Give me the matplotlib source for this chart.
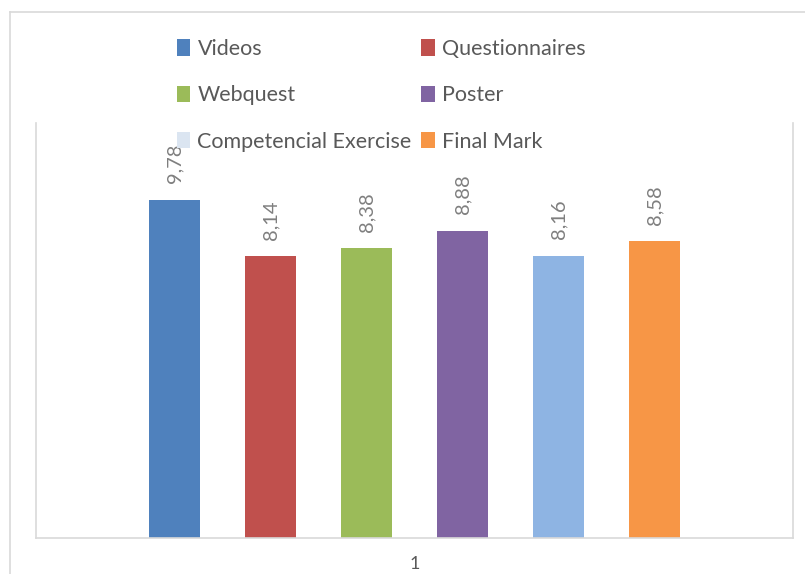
import matplotlib
matplotlib.use("Agg")
import matplotlib.pyplot as plt
from matplotlib.patches import Patch
from matplotlib.lines import Line2D

categories = ["1"]
series_names = ["Videos", "Questionnaires", "Webquest", "Poster",
                "Competencial Exercise", "Final Mark"]
values = [9.78, 8.14, 8.38, 8.88, 8.16, 8.58]
value_labels = ["9,78", "8,14", "8,38", "8,88", "8,16", "8,58"]
bar_colors = ["#4F81BD", "#C0504D", "#9BBB59", "#8064A2", "#8EB4E3", "#F79646"]
legend_colors = ["#4F81BD", "#C0504D", "#9BBB59", "#8064A2", "#DBE5F1", "#F79646"]

plt.rcParams['font.family'] = ['Lato', 'DejaVu Sans']

W, H = 805, 574
fig = plt.figure(figsize=(W / 100, H / 100), dpi=100)

# outer chart border
fig.add_artist(Line2D([10 / W, 10 / W], [0, 1 - 12 / H], transform=fig.transFigure,
                      color="#d9d9d9", lw=1.2))
fig.add_artist(Line2D([10 / W, 1.0], [1 - 12 / H, 1 - 12 / H], transform=fig.transFigure,
                      color="#d9d9d9", lw=1.2))

left, right, bottom, top = 36, 793, 538, 123
ax = fig.add_axes([left / W, 1 - bottom / H, (right - left) / W, (bottom - top) / H])

slot = 96.0
n = len(values)
half_range = (right - left) / slot / 2
bar_w = 51 / slot
for i, (name, v, c, lab) in enumerate(zip(series_names, values, bar_colors, value_labels)):
    x = i - (n - 1) / 2
    ax.bar(x, v, width=bar_w, color=c, label=name, zorder=2)
    ax.annotate(lab, (x, v), xytext=(0, 12), textcoords="offset points",
                rotation=90, ha="center", va="bottom", color="#7f7f7f", fontsize=14.5)

ax.set_xlim(-half_range, half_range)
ax.set_ylim(0, 12)
ax.set_xticks([0])
ax.set_xticklabels(categories, color="#595959", fontsize=13)
ax.tick_params(axis="x", length=0, pad=13)
ax.set_yticks([])
for s in ["left", "right", "bottom"]:
    ax.spines[s].set_color("#d9d9d9")
    ax.spines[s].set_linewidth(1.2)
ax.spines["top"].set_visible(False)

# legend (row-wise order via column-wise reordering)
order = [0, 2, 4, 1, 3, 5]
handles = [Patch(facecolor=legend_colors[i], edgecolor="none") for i in order]
labels = [series_names[i] for i in order]
leg = fig.legend(handles, labels, ncol=2, loc="upper left",
                 bbox_to_anchor=(177 / W, 1 - 39 / H), frameon=False,
                 fontsize=15.5, labelcolor="#595959", handlelength=0.62,
                 handleheight=0.8, handletextpad=0.33, columnspacing=0.45,
                 labelspacing=1.22, borderpad=0, borderaxespad=0)

fig.savefig("out.png", dpi=100)
